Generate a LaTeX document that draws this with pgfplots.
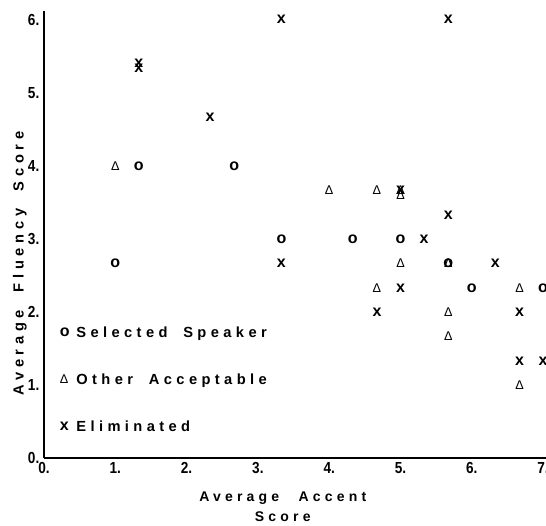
\documentclass[border=0pt]{standalone}
\usepackage{pgfplots}
\pgfplotsset{compat=1.18}
\usepackage{fontspec}
\setmainfont{Liberation Sans}
\newfontfamily\spaced[LetterSpace=30]{Liberation Sans}
\newfontfamily\yspaced[LetterSpace=32]{Liberation Sans}
\newfontfamily\tickfont[FakeStretch=0.85]{Liberation Sans}
\begin{document}
\begin{tikzpicture}
\begin{axis}[
 at={(0,0)}, anchor=south west,
 scale only axis, width=377pt, height=335.25pt,
 xmin=0, xmax=7.05, ymin=0, ymax=6.12,
 axis lines=left, axis line style={-, line width=1.6pt, black},
 major tick length=0pt,
 xtick={0,1,2,3,4,5,6,7}, xticklabels={0.,1.,2.,3.,4.,5.,6.,7.},
 ytick={0,1,2,3,4,5,6}, yticklabels={0.,1.,2.,3.,4.,5.,6.},
 tick label style={font=\tickfont\bfseries\fontsize{12}{12}\selectfont},
 clip=false,
 xlabel={Average\hspace{0.8em} Accent\\Score},
 xlabel style={at={(rel axis cs:0.475,0)}, anchor=north, yshift=-25pt, inner sep=0pt, align=center, font=\spaced\bfseries\fontsize{10.5}{15}\selectfont},
 ylabel={Average\hspace{0.6em} Fluency\hspace{0.6em} Score},
 ylabel style={at={(rel axis cs:-0.048,0.435)}, anchor=center, inner sep=0pt, font=\yspaced\bfseries\fontsize{11}{13}\selectfont},
 legend style={at={(axis cs:0.22,1.84)}, anchor=north west, draw=none, fill=none, inner sep=0pt, row sep=22pt, column sep=3pt, font=\spaced\bfseries\fontsize{11}{13}\selectfont},
 legend cell align=left,
 text mark as node=true,
]
\addplot[only marks, mark=text, text mark={o}, text mark style={font=\bfseries\fontsize{12}{12}\selectfont, inner sep=0pt}] coordinates {
 (1.33,4.0) (2.67,4.0) (3.33,3.0) (4.33,3.0) (5.0,3.0) (1.0,2.67) (5.67,2.67) (6.0,2.33) (7.0,2.33)};
\addplot[only marks, mark=text, text mark={Δ}, text mark style={font=\fontsize{9.5}{10}\selectfont, inner sep=0pt}] coordinates {
 (1.0,4.0) (4.0,3.67) (4.67,3.67) (5.0,3.67) (5.0,3.6) (5.0,2.67) (5.67,2.67) (4.67,2.33) (6.67,2.33) (5.67,2.0) (5.67,1.67) (6.67,1.0)};
\addplot[only marks, mark=text, text mark={x}, text mark style={font=\bfseries\fontsize{12}{12}\selectfont, inner sep=0pt}] coordinates {
 (3.33,6.0) (5.67,6.0) (1.33,5.4) (1.33,5.33) (2.33,4.67) (5.0,3.67) (5.67,3.33) (5.33,3.0) (3.33,2.67) (6.33,2.67) (5.0,2.33) (4.67,2.0) (6.67,2.0) (6.67,1.33) (7.0,1.33)};
\legend{Selected\hspace{0.5em} Speaker, Other\hspace{0.5em} Acceptable, Eliminated}
\end{axis}
\pgfresetboundingbox
\path[use as bounding box] (-33pt,-50.25pt) rectangle (376.5pt,343.5pt);
\end{tikzpicture}
\end{document}
